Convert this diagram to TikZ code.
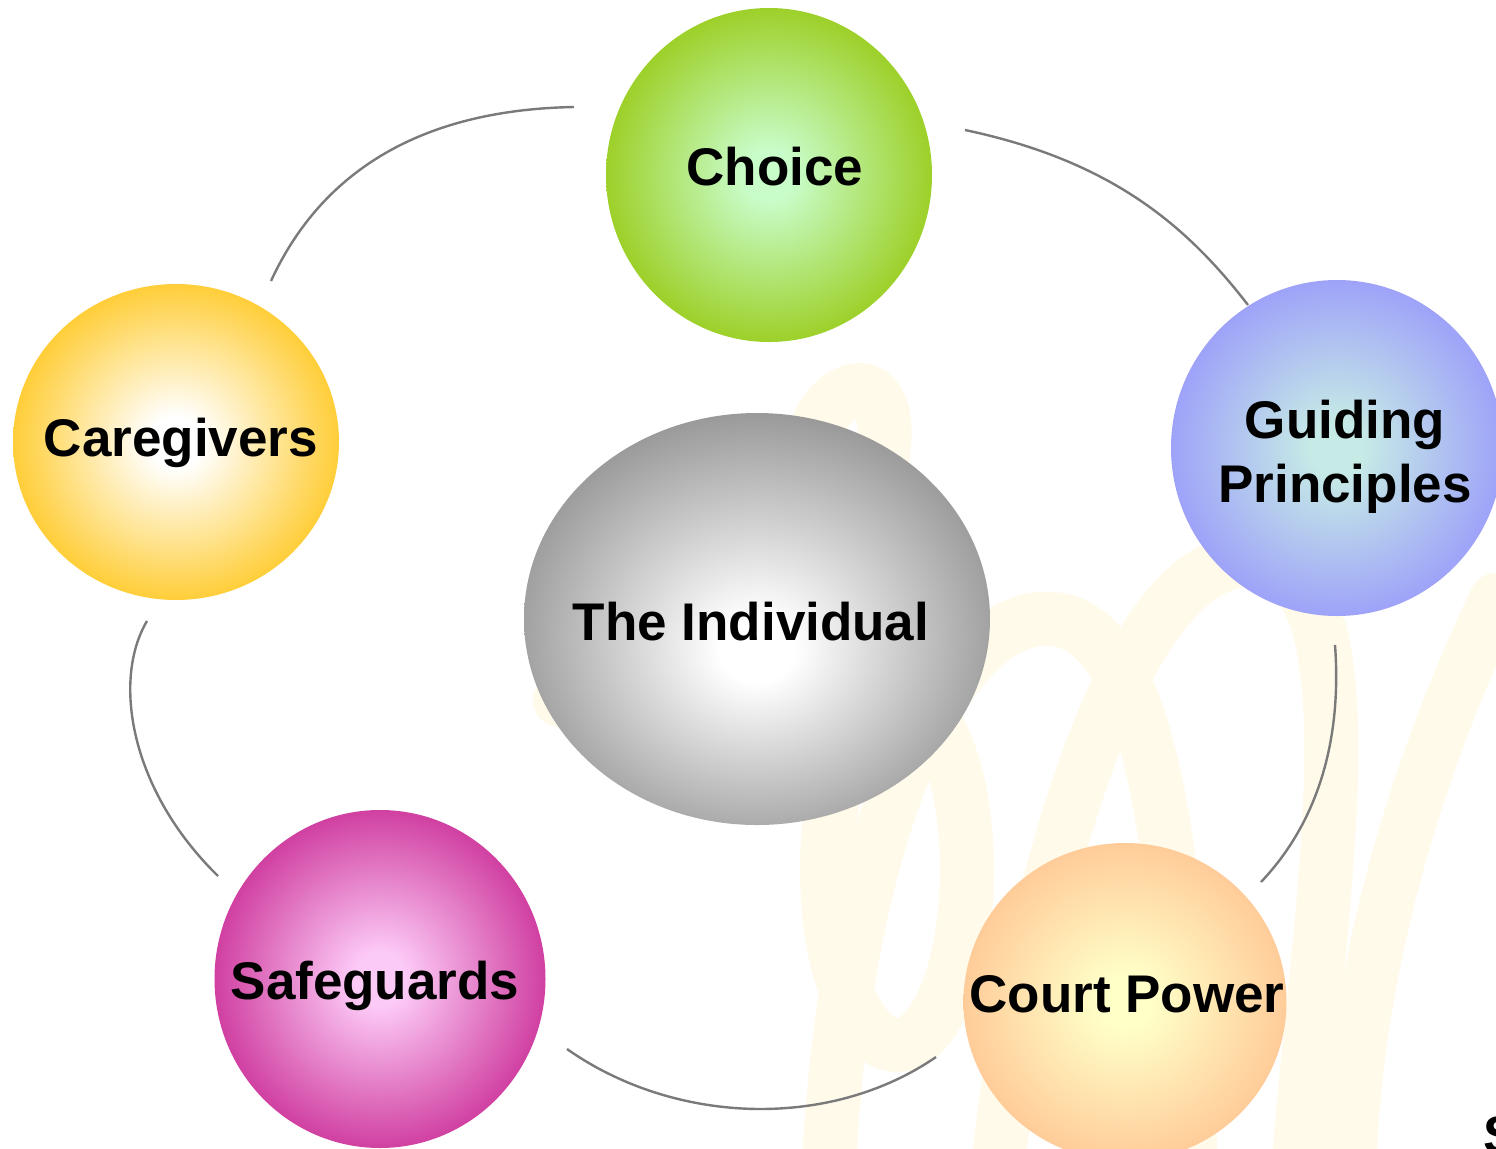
\documentclass[tikz,border=0pt]{standalone}
\usepackage{fontspec}
\setmainfont{Liberation Sans}
\usetikzlibrary{shapes.geometric}
\definecolor{chIn}{HTML}{C8FCC8}\definecolor{chOut}{HTML}{99CC1A}
\definecolor{caIn}{HTML}{FFFFFF}\definecolor{caOut}{HTML}{FFC926}
\definecolor{guIn}{HTML}{C6EAE6}\definecolor{guOut}{HTML}{9A9CFA}
\definecolor{inIn}{HTML}{FFFFFF}\definecolor{inOut}{HTML}{999999}
\definecolor{saIn}{HTML}{FCCAF6}\definecolor{saOut}{HTML}{CC3399}
\definecolor{coIn}{HTML}{FFFFC8}\definecolor{coOut}{HTML}{FFCC99}
\definecolor{ringline}{HTML}{7A7A7A}
\definecolor{wm}{HTML}{FFFAE9}
\pgfdeclareradialshading{shChoice}{\pgfpoint{0bp}{0bp}}{color(0bp)=(chIn); color(4bp)=(chIn); color(27bp)=(chOut); color(50bp)=(chOut)}
\pgfdeclareradialshading{shCare}{\pgfpoint{0bp}{0bp}}{color(0bp)=(caIn); color(4bp)=(caIn); color(27bp)=(caOut); color(50bp)=(caOut)}
\pgfdeclareradialshading{shGuide}{\pgfpoint{0bp}{0bp}}{color(0bp)=(guIn); color(4bp)=(guIn); color(27bp)=(guOut); color(50bp)=(guOut)}
\pgfdeclareradialshading{shIndiv}{\pgfpoint{0bp}{-4bp}}{color(0bp)=(inIn); color(4bp)=(inIn); color(27bp)=(inOut); color(50bp)=(inOut)}
\pgfdeclareradialshading{shSafe}{\pgfpoint{0bp}{0bp}}{color(0bp)=(saIn); color(4bp)=(saIn); color(27bp)=(saOut); color(50bp)=(saOut)}
\pgfdeclareradialshading{shCourt}{\pgfpoint{0bp}{0bp}}{color(0bp)=(coIn); color(4bp)=(coIn); color(25bp)=(coOut); color(50bp)=(coOut)}
\tikzset{
  ball/.style={ellipse, inner sep=0pt, draw=none},
  lbl/.style={inner sep=0pt, font=\fontsize{26.5}{32}\selectfont\bfseries, text=black, align=center},
  ring/.style={draw=ringline, line width=1.2pt},
  wmark/.style={draw=wm, line width=27pt, line cap=round}
}
\begin{document}
\begin{tikzpicture}[x=0.5pt, y=-0.5pt]
\clip (0,0) rectangle (1496,1148);
\fill[white] (0,0) rectangle (1496,1148);
% faint background watermark
\draw[wmark] (897,870) ellipse [x radius=70, y radius=175];
\draw[wmark] (830,1148) .. controls (850,800) and (960,600) .. (1060,620) .. controls (1160,640) and (1180,900) .. (1190,1148);
\draw[wmark] (1000,1148) .. controls (1030,900) and (1120,560) .. (1250,560) .. controls (1380,560) and (1320,900) .. (1300,1148);
\draw[wmark] (1496,600) .. controls (1420,760) and (1360,950) .. (1350,1148);
\draw[wmark] (560,700) .. controls (650,560) and (760,520) .. (840,560);
\draw[wmark] (820,420) .. controls (850,370) and (900,380) .. (880,470);
% nodes (shapes)
\node[ball, shading=shChoice, minimum width=163pt, minimum height=167pt] (choice) at (769,175) {};
\node[ball, shading=shCare, minimum width=163pt, minimum height=158pt] (care) at (176,442) {};
\node[ball, shading=shGuide, minimum width=166pt, minimum height=168pt] (guide) at (1337,448) {};
\node[ball, shading=shIndiv, minimum width=233pt, minimum height=206pt] (indiv) at (757,619) {};
\node[ball, shading=shSafe, minimum width=165.5pt, minimum height=169pt] (safe) at (380,979) {};
\node[ball, shading=shCourt, minimum width=161.5pt, minimum height=159pt] (court) at (1125,1002) {};
% labels
\node[lbl, anchor=base] (choiceT) at (775,185) {Choice};
\node[lbl, anchor=base] (careT) at (181,456) {Caregivers};
\node[lbl] (guideT) at (1345,457) {Guiding\\Principles};
\node[lbl, anchor=base] (indivT) at (751,640) {The Individual};
\node[lbl, anchor=base] (safeT) at (375,999) {Safeguards};
\node[lbl, anchor=base] (courtT) at (1127,1012) {Court Power};
\node[lbl, anchor=base west] (sT) at (1483,1153) {S};
% ring connectors
\coordinate (a1s) at (271,281); \coordinate (a1e) at (574,107);
\coordinate (a2s) at (965,130); \coordinate (a2e) at (1248,305);
\coordinate (a3s) at (1335,645); \coordinate (a3e) at (1261,882);
\coordinate (a4s) at (936,1057); \coordinate (a4e) at (567,1049);
\coordinate (a5s) at (218,876); \coordinate (a5e) at (147,621);
\draw[ring] (a1s) .. controls (317,181) and (409,110) .. (a1e);
\draw[ring] (a2s) .. controls (1112,161) and (1187,226) .. (a2e);
\draw[ring] (a3s) .. controls (1342,740) and (1318,822) .. (a3e);
\draw[ring] (a4s) .. controls (830,1130) and (675,1125) .. (a4e);
\draw[ring] (a5s) .. controls (130,790) and (112,680) .. (a5e);
\end{tikzpicture}
\end{document}
